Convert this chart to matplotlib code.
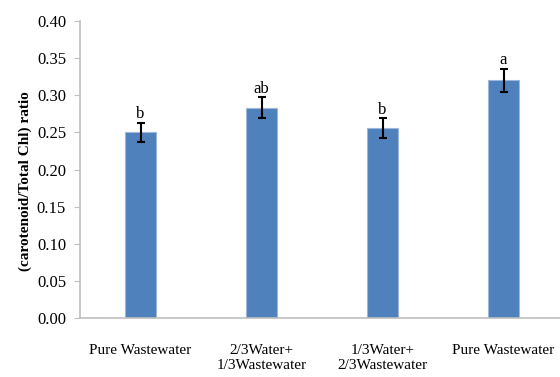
import matplotlib.pyplot as plt
import numpy as np

plt.rcParams['font.family'] = ['Liberation Serif', 'DejaVu Serif']

categories = ['Pure Wastewater', '2/3Water+\n1/3Wastewater', '1/3Water+\n2/3Wastewater', 'Pure Wastewater']
ratio = [0.250, 0.283, 0.256, 0.320]
err = [0.0125, 0.014, 0.013, 0.016]
letters = ['b', 'ab', 'b', 'a']

fig = plt.figure(figsize=(5.6, 3.77), dpi=100)
ax = fig.add_axes([80 / 560, 59 / 377, 484 / 560, 297 / 377])

x = np.arange(len(categories))
ax.bar(x, ratio, width=0.25, color='#4F81BD', edgecolor='#9DB7DA', linewidth=0.8, zorder=2)
ax.errorbar(x, ratio, yerr=err, fmt='none', ecolor='black', elinewidth=1.5,
            capsize=3, capthick=1.5, zorder=3)

# significance letters above the error bars
for xi, v, e, s in zip(x, ratio, err, letters):
    ax.text(xi, v + e + 0.001, s, ha='center', va='bottom', fontsize=12)

ax.set_xlim(-0.5, 3.5)
ax.set_ylim(0, 0.40)
ax.set_yticks(np.arange(0, 0.41, 0.05))
ax.set_yticklabels(['%.2f' % t for t in np.arange(0, 0.41, 0.05)], fontsize=12)
ax.set_xticks(x)
ax.set_xticklabels(categories, fontsize=11, linespacing=1.15)
ax.tick_params(axis='x', length=0, pad=19)
ax.tick_params(axis='y', length=4, color='#BFBFBF', pad=6)

for side in ['top', 'right']:
    ax.spines[side].set_visible(False)
for side in ['left', 'bottom']:
    ax.spines[side].set_color('#BFBFBF')
    ax.spines[side].set_linewidth(1.2)

ax.set_ylabel('(carotenoid/Total Chl) ratio', fontsize=11, fontweight='bold')
ax.yaxis.set_label_coords(-0.10, 0.46)

fig.savefig('out.png', dpi=100)
